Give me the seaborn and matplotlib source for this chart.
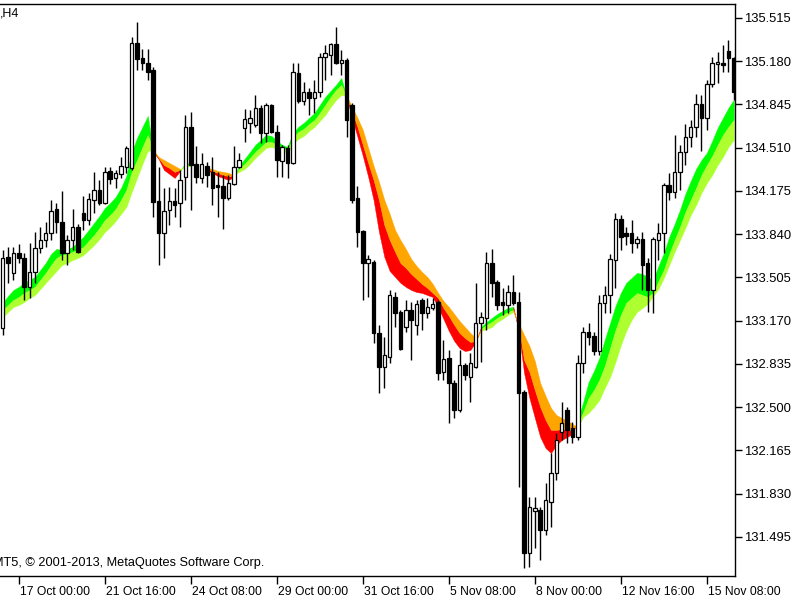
import numpy as np
import pandas as pd
import matplotlib
matplotlib.use("Agg")
import matplotlib.pyplot as plt
import matplotlib.transforms as mtransforms
import seaborn as sns

# ---------------- data (USDJPY H4 candles) ----------------
open_ = [133.114, 133.664, 133.540, 133.695, 133.656, 133.432, 133.548, 133.733, 133.795, 133.850,
         134.035, 133.935, 133.695, 133.795, 133.896, 134.005, 133.950, 134.105, 134.183, 134.082,
         134.330, 134.276, 134.307, 134.361, 134.353, 135.322, 135.205, 135.167, 135.112, 134.097,
         133.850, 134.028, 134.097, 134.082, 134.284, 134.671, 134.384, 134.276, 134.369, 134.323,
         134.221, 134.214, 134.121, 134.229, 134.361, 134.663, 134.702, 134.686, 134.818, 134.625,
         134.841, 134.632, 134.408, 134.508, 134.392, 135.089, 134.872, 134.942, 134.895, 134.942,
         135.213, 135.229, 135.314, 135.167, 135.190, 134.841, 134.121, 133.865, 133.617, 133.625,
         133.075, 132.812, 132.889, 133.354, 133.238, 133.121, 133.253, 133.137, 133.331, 133.230,
         133.269, 133.315, 132.773, 132.881, 132.688, 132.479, 132.827, 132.734, 132.812, 133.152,
         133.191, 133.617, 133.470, 133.315, 133.292, 133.392, 133.315, 132.618, 131.371, 131.696,
         131.704, 131.549, 131.766, 131.991, 132.308, 132.479, 132.339, 132.269, 132.843, 133.083,
         133.052, 132.935, 133.308, 133.369, 133.640, 133.958, 133.850, 133.850, 133.772, 133.803,
         133.617, 133.408, 133.795, 133.850, 134.221, 134.167, 134.323, 134.477, 134.594, 134.671,
         134.849, 134.741, 135.004, 135.159, 135.167, 135.260, 135.205]
high = [133.718, 133.741, 133.741, 133.764, 133.695, 133.772, 133.858, 133.896, 133.935, 134.105,
        134.082, 134.175, 133.834, 134.035, 133.919, 134.137, 134.160, 134.323, 134.260, 134.361,
        134.361, 134.338, 134.439, 134.524, 135.368, 135.485, 135.275, 135.275, 135.136, 134.361,
        134.198, 134.206, 134.198, 134.338, 134.763, 134.787, 134.524, 134.470, 134.400, 134.439,
        134.323, 134.299, 134.299, 134.524, 134.470, 134.810, 134.802, 134.918, 134.841, 134.857,
        134.849, 134.686, 134.532, 134.532, 135.167, 135.167, 135.019, 134.973, 135.035, 135.244,
        135.306, 135.322, 135.445, 135.267, 135.205, 134.857, 134.214, 133.873, 133.679, 133.640,
        133.137, 133.044, 133.408, 133.392, 133.253, 133.331, 133.315, 133.331, 133.346, 133.346,
        133.346, 133.331, 133.021, 132.943, 132.711, 132.943, 132.843, 132.920, 133.463, 133.238,
        133.703, 133.726, 133.486, 133.424, 133.447, 133.525, 133.392, 132.633, 131.805, 131.805,
        131.727, 131.913, 132.145, 132.300, 132.540, 132.502, 132.386, 132.904, 133.121, 133.152,
        133.083, 133.369, 133.439, 133.687, 134.005, 133.989, 133.896, 133.950, 133.826, 133.858,
        133.656, 133.819, 133.927, 134.237, 134.315, 134.609, 134.532, 134.694, 134.725, 134.926,
        134.918, 135.035, 135.213, 135.252, 135.306, 135.345, 135.213]
low = [133.059, 133.463, 133.486, 133.617, 133.331, 133.346, 133.463, 133.695, 133.741, 133.795,
       133.850, 133.640, 133.601, 133.718, 133.695, 133.873, 133.911, 134.005, 134.066, 134.074,
       134.229, 134.198, 134.276, 134.315, 134.338, 135.112, 135.112, 135.035, 133.974, 133.601,
       133.656, 133.911, 133.974, 133.896, 134.105, 134.028, 134.237, 134.237, 134.206, 134.066,
       133.974, 133.880, 134.105, 134.221, 134.353, 134.555, 134.625, 134.671, 134.547, 134.555,
       134.625, 134.284, 134.284, 134.276, 134.384, 134.857, 134.841, 134.763, 134.779, 134.903,
       135.035, 135.073, 135.159, 135.073, 134.594, 134.082, 133.741, 133.331, 133.354, 132.998,
       132.610, 132.649, 132.843, 133.121, 132.943, 133.083, 132.866, 133.059, 133.098, 133.191,
       133.253, 132.711, 132.711, 132.378, 132.417, 132.463, 132.711, 132.540, 132.804, 132.850,
       133.098, 133.354, 133.253, 133.215, 133.230, 133.292, 131.882, 131.255, 131.263, 131.410,
       131.317, 131.510, 131.572, 131.936, 132.246, 132.223, 132.223, 132.246, 132.765, 132.982,
       132.904, 132.904, 133.230, 133.230, 133.424, 133.718, 133.757, 133.695, 133.733, 133.408,
       133.238, 133.230, 133.640, 133.695, 134.105, 134.121, 134.183, 134.376, 134.516, 134.594,
       134.485, 134.648, 134.980, 135.011, 135.097, 135.097, 134.880]
close = [133.656, 133.617, 133.695, 133.656, 133.432, 133.548, 133.733, 133.795, 133.850, 134.020,
         133.935, 133.695, 133.795, 133.896, 133.703, 133.950, 134.113, 134.183, 134.082, 134.323,
         134.268, 134.315, 134.369, 134.508, 135.322, 135.197, 135.167, 135.097, 134.090, 133.850,
         134.020, 134.097, 134.066, 134.260, 134.671, 134.376, 134.284, 134.384, 134.299, 134.198,
         134.206, 134.121, 134.237, 134.361, 134.415, 134.733, 134.741, 134.818, 134.625, 134.841,
         134.632, 134.415, 134.516, 134.392, 135.097, 134.872, 134.942, 134.895, 134.942, 135.213,
         135.244, 135.314, 135.167, 135.190, 134.725, 134.105, 133.858, 133.617, 133.648, 133.075,
         132.812, 132.904, 133.369, 133.230, 132.950, 133.253, 133.176, 133.300, 133.230, 133.277,
         133.300, 132.765, 132.874, 132.688, 132.479, 132.827, 132.750, 132.843, 133.152, 133.199,
         133.617, 133.463, 133.292, 133.292, 133.392, 133.308, 132.610, 131.371, 131.727, 131.719,
         131.549, 131.781, 131.991, 132.246, 132.378, 132.324, 132.269, 132.843, 133.083, 133.044,
         132.935, 133.308, 133.369, 133.648, 133.958, 133.819, 133.826, 133.772, 133.803, 133.601,
         133.408, 133.803, 133.850, 134.221, 134.167, 134.323, 134.477, 134.594, 134.671, 134.849,
         134.741, 135.004, 135.167, 135.174, 135.151, 135.205, 134.942]

nan = float("nan")
# three moving-average lines of the ribbon indicator
fast = [133.308, 133.362, 133.408, 133.432, 133.463, 133.486, 133.509, 133.563, 133.617, 133.687,
        133.726, 133.718, 133.726, 133.741, 133.780, 133.819, 133.873, 133.927, 133.981, 134.043,
        134.082, 134.128, 134.198, 134.291, 134.477, 134.586, 134.671, 134.756, 134.477, 134.423,
        134.338, 134.307, 134.276, 134.330, 134.392, 134.384, nan, nan, 134.338, 134.315,
        134.291, 134.276, 134.260, 134.284, 134.369, 134.423, 134.477, 134.532, 134.570, 134.609,
        134.601, 134.563, 134.532, 134.516, 134.625, 134.671, 134.702, 134.741, 134.779, 134.841,
        134.903, 134.950, 134.996, 135.050, 134.895, 134.741, 134.594, 134.446, 134.284, 134.105,
        133.858, 133.664, 133.555, 133.509, 133.463, 133.432, 133.408, 133.392, 133.385, 133.369,
        133.354, 133.277, 133.184, 133.091, 133.013, 132.958, 132.935, 132.943, 133.005, 133.121,
        133.160, 133.191, 133.222, 133.246, 133.269, 133.277, 133.083, 132.765, 132.571, 132.417,
        132.269, 132.184, 132.145, 132.207, 132.246, 132.269, 132.293, 132.401, 132.540, 132.695,
        132.781, 132.881, 133.021, 133.152, 133.284, 133.385, 133.463, 133.501, 133.540, 133.532,
        133.509, 133.486, 133.594, 133.695, 133.819, 133.919, 134.028, 134.152, 134.252, 134.346,
        134.415, 134.470, 134.563, 134.663, 134.741, 134.818, 134.880]
mid = [133.253, 133.292, 133.331, 133.354, 133.385, 133.408, 133.432, 133.486, 133.540, 133.601,
       133.656, 133.679, 133.687, 133.703, 133.718, 133.741, 133.788, 133.834, 133.888, 133.950,
       133.989, 134.035, 134.105, 134.183, 134.323, 134.415, 134.516, 134.609, 134.485, 134.431,
       134.376, 134.353, 134.323, 134.338, 134.376, 134.376, nan, nan, 134.346, 134.330,
       134.315, 134.299, 134.291, 134.291, 134.346, 134.384, 134.431, 134.477, 134.516, 134.555,
       134.555, 134.532, 134.508, 134.493, 134.586, 134.632, 134.656, 134.694, 134.725, 134.779,
       134.841, 134.903, 134.957, 134.996, 134.903, 134.787, 134.671, 134.532, 134.392, 134.260,
       134.105, 133.911, 133.795, 133.703, 133.617, 133.579, 133.532, 133.494, 133.455, 133.424,
       133.385, 133.346, 133.269, 133.207, 133.137, 133.075, 133.036, 133.005, 133.013, 133.106,
       133.137, 133.160, 133.191, 133.215, 133.238, 133.253, 133.121, 132.866, 132.773, 132.633,
       132.502, 132.401, 132.324, 132.324, 132.331, 132.324, 132.324, 132.370, 132.463, 132.571,
       132.633, 132.711, 132.819, 132.958, 133.098, 133.215, 133.308, 133.346, 133.385, 133.369,
       133.354, 133.385, 133.478, 133.563, 133.687, 133.795, 133.896, 134.012, 134.105, 134.198,
       134.299, 134.376, 134.446, 134.532, 134.609, 134.671, 134.725]
slow = [133.199, 133.238, 133.277, 133.292, 133.315, 133.346, 133.369, 133.416, 133.463, 133.509,
        133.555, 133.601, 133.617, 133.640, 133.656, 133.679, 133.718, 133.757, 133.803, 133.858,
        133.896, 133.942, 133.997, 134.051, 134.167, 134.276, 134.384, 134.485, 134.493, 134.439,
        134.415, 134.392, 134.369, 134.346, 134.361, 134.369, nan, nan, 134.353, 134.346,
        134.330, 134.323, 134.315, 134.299, 134.323, 134.346, 134.384, 134.431, 134.470, 134.508,
        134.516, 134.501, 134.477, 134.470, 134.539, 134.578, 134.601, 134.640, 134.671, 134.718,
        134.763, 134.826, 134.880, 134.918, 134.911, 134.826, 134.741, 134.648, 134.508, 134.369,
        134.245, 134.105, 133.997, 133.873, 133.795, 133.726, 133.648, 133.594, 133.548, 133.509,
        133.455, 133.385, 133.323, 133.277, 133.222, 133.168, 133.121, 133.075, 133.036, 133.091,
        133.106, 133.121, 133.160, 133.184, 133.215, 133.238, 133.152, 133.059, 132.974, 132.858,
        132.688, 132.587, 132.494, 132.440, 132.417, 132.394, 132.370, 132.347, 132.425, 132.456,
        132.502, 132.556, 132.649, 132.734, 132.850, 132.982, 133.091, 133.176, 133.238, 133.269,
        133.300, 133.362, 133.416, 133.501, 133.601, 133.703, 133.795, 133.888, 133.989, 134.066,
        134.160, 134.237, 134.299, 134.376, 134.439, 134.516, 134.570]

x_tick_bars = [3, 19, 35, 51, 67, 83, 99, 115, 131]
x_tick_labels = ["17 Oct 00:00", "21 Oct 16:00", "24 Oct 08:00", "29 Oct 00:00", "31 Oct 16:00",
                 "5 Nov 08:00", "8 Nov 00:00", "12 Nov 16:00", "15 Nov 08:00"]
y_ticks = [131.495, 131.830, 132.165, 132.500, 132.835, 133.170, 133.505,
           133.840, 134.175, 134.510, 134.845, 135.180, 135.515]

# ---------------- figure ----------------
sns.set_theme(style="white")
plt.rcParams["font.family"] = ["Liberation Sans", "DejaVu Sans"]

df = pd.DataFrame({"open": open_, "high": high, "low": low, "close": close,
                   "fast": fast, "mid": mid, "slow": slow})
df["bar"] = np.arange(len(df))

fig = plt.figure(figsize=(8, 6), dpi=100)
fig.patch.set_facecolor("white")
ax = fig.add_axes([0.0, 0.04, 0.91875, 0.95333])
ax.set_facecolor("white")

# ---- ribbon fills ----
xb = df["bar"].to_numpy()
f = df["fast"].to_numpy()
m = df["mid"].to_numpy()
s = df["slow"].to_numpy()
d = f - s
seg = d[:-1] + d[1:]
classes = []
for i in range(len(seg)):
    if np.isnan(seg[i]):
        classes.append(None)
    else:
        classes.append("up" if seg[i] >= 0 else "down")

colors = {"up": ("#00FF00", "#ADFF2F"), "down": ("#FF0000", "#FFA500")}
i = 0
while i < len(classes):
    c = classes[i]
    if c is None:
        i += 1
        continue
    j = i
    while j + 1 < len(classes) and classes[j + 1] == c:
        j += 1
    sl = slice(i, j + 2)
    c1, c2 = colors[c]
    ax.fill_between(xb[sl], f[sl], m[sl], color=c1, linewidth=0.3, edgecolor=c1, zorder=1)
    ax.fill_between(xb[sl], m[sl], s[sl], color=c2, linewidth=0.3, edgecolor=c2, zorder=1)
    i = j + 1

# ---- candles ----
ax.vlines(df["bar"], df["low"], df["high"], color="black", linewidth=1.0, zorder=2)
bull = df["close"] >= df["open"]
body_lo = np.minimum(df["open"], df["close"])
body_h = np.maximum(np.abs(df["close"] - df["open"]), 0.004)
ax.bar(df["bar"][bull], body_h[bull], bottom=body_lo[bull], width=0.64,
       color="white", edgecolor="black", linewidth=0.9, zorder=3)
ax.bar(df["bar"][~bull], body_h[~bull], bottom=body_lo[~bull], width=0.64,
       color="black", edgecolor="black", linewidth=0.9, zorder=3)

# ---- axes ----
ax.set_xlim(-0.5, 136.24)
ax.set_ylim(131.1925, 135.623)
for side in ["top", "right", "bottom"]:
    ax.spines[side].set_visible(True)
    ax.spines[side].set_color("black")
    ax.spines[side].set_linewidth(1.0)
ax.spines["left"].set_visible(False)
ax.grid(False)

ax.yaxis.tick_right()
ax.set_yticks(y_ticks)
ax.set_yticklabels([f"{v:.3f}" for v in y_ticks])
ax.tick_params(axis="y", which="both", direction="out", length=5, width=1.0,
               pad=1.5, labelsize=9.4, colors="black", left=False, right=True)

ax.set_xticks(x_tick_bars)
ax.set_xticklabels(x_tick_labels, ha="left")
ax.tick_params(axis="x", direction="out", length=6, width=1.0, pad=1.5,
               labelsize=8.7, colors="black", bottom=True)
offset = mtransforms.ScaledTranslation(1.5 / 100, 0, fig.dpi_scale_trans)
for lab in ax.get_xticklabels():
    lab.set_transform(lab.get_transform() + offset)

fig.text(0.0005, 1 - 14 / 600, ",H4", fontsize=9, color="black", va="center", ha="left")
fig.text(-7 / 800, 1 - 563 / 600, "MT5, \u00a9 2001-2013, MetaQuotes Software Corp.",
         fontsize=9.2, color="black", va="center", ha="left")

fig.savefig("out.png", dpi=100, facecolor="white")
